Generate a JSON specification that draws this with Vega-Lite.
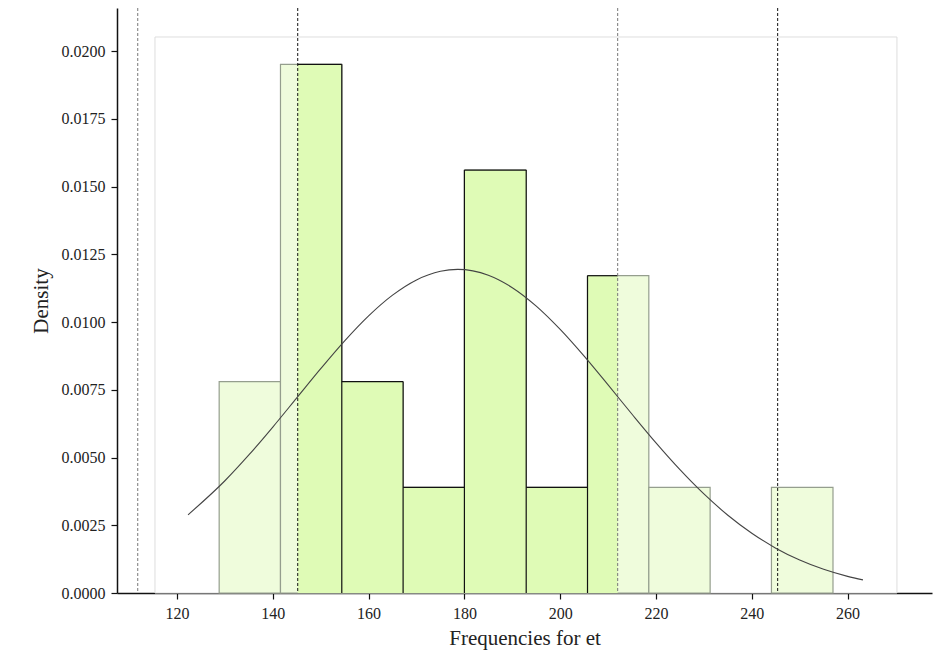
{
  "$schema": "https://vega.github.io/schema/vega-lite/v6.json",
  "width": 815,
  "height": 585,
  "autosize": {"type": "none"},
  "padding": {"left": 117, "top": 8, "right": 2, "bottom": 64},
  "background": "white",
  "config": {
    "view": {"stroke": null},
    "font": "Liberation Serif",
    "axis": {
      "grid": false,
      "domainColor": "#111",
      "domainWidth": 1.5,
      "tickColor": "#111",
      "tickWidth": 1.2,
      "tickSize": 6,
      "labelFont": "Liberation Serif",
      "labelFontSize": 16,
      "labelColor": "#222",
      "titleFont": "Liberation Serif",
      "titleFontSize": 21,
      "titleFontWeight": "normal",
      "titleColor": "#222"
    }
  },
  "datasets": {
    "frame": [{"x0": 115.4, "x1": 270.3, "y0": 0, "y1": 0.02052}],
    "light": [
      {"x0": 128.8, "x1": 141.6, "density": 0.0078},
      {"x0": 141.6, "x1": 154.4, "density": 0.01951},
      {"x0": 154.4, "x1": 167.2, "density": 0.0078},
      {"x0": 167.2, "x1": 180.0, "density": 0.0039},
      {"x0": 180.0, "x1": 192.9, "density": 0.01561},
      {"x0": 192.9, "x1": 205.7, "density": 0.0039},
      {"x0": 205.7, "x1": 218.5, "density": 0.01171},
      {"x0": 218.5, "x1": 231.3, "density": 0.0039},
      {"x0": 244.1, "x1": 256.95, "density": 0.0039}
    ],
    "dark": [
      {"x0": 145.2, "x1": 154.4, "density": 0.01951},
      {"x0": 154.4, "x1": 167.2, "density": 0.0078},
      {"x0": 167.2, "x1": 180.0, "density": 0.0039},
      {"x0": 180.0, "x1": 192.9, "density": 0.01561},
      {"x0": 192.9, "x1": 205.7, "density": 0.0039},
      {"x0": 205.7, "x1": 212.0, "density": 0.01171}
    ],
    "edges": [
      {"x": 145.2, "x2": 154.4, "y": 0.01951, "y2": 0.01951},
      {"x": 154.4, "x2": 167.2, "y": 0.0078, "y2": 0.0078},
      {"x": 167.2, "x2": 180.0, "y": 0.0039, "y2": 0.0039},
      {"x": 180.0, "x2": 192.9, "y": 0.01561, "y2": 0.01561},
      {"x": 192.9, "x2": 205.7, "y": 0.0039, "y2": 0.0039},
      {"x": 205.7, "x2": 212.0, "y": 0.01171, "y2": 0.01171},
      {"x": 154.4, "x2": 154.4, "y": 0, "y2": 0.01951},
      {"x": 167.2, "x2": 167.2, "y": 0, "y2": 0.0078},
      {"x": 180.0, "x2": 180.0, "y": 0, "y2": 0.01561},
      {"x": 192.9, "x2": 192.9, "y": 0, "y2": 0.01561},
      {"x": 205.7, "x2": 205.7, "y": 0, "y2": 0.01171}
    ],
    "rules": [
      {"x": 111.8, "c": "#777"},
      {"x": 145.2, "c": "#111"},
      {"x": 212.0, "c": "#777"},
      {"x": 245.4, "c": "#111"}
    ],
    "curve": [
      {"x": 122.3, "d": 0.002886},
      {"x": 130, "d": 0.004143},
      {"x": 135, "d": 0.005095},
      {"x": 140, "d": 0.006125},
      {"x": 145, "d": 0.007201},
      {"x": 150, "d": 0.008278},
      {"x": 155, "d": 0.009306},
      {"x": 160, "d": 0.010228},
      {"x": 165, "d": 0.010993},
      {"x": 170, "d": 0.011555},
      {"x": 175, "d": 0.011875},
      {"x": 178.6, "d": 0.011944},
      {"x": 185, "d": 0.011727},
      {"x": 190, "d": 0.011268},
      {"x": 195, "d": 0.010588},
      {"x": 200, "d": 0.009727},
      {"x": 205, "d": 0.00874},
      {"x": 210, "d": 0.007678},
      {"x": 215, "d": 0.006596},
      {"x": 220, "d": 0.00554},
      {"x": 225, "d": 0.004551},
      {"x": 230, "d": 0.003655},
      {"x": 235, "d": 0.00287},
      {"x": 240, "d": 0.002205},
      {"x": 245, "d": 0.001655},
      {"x": 250, "d": 0.001216},
      {"x": 255, "d": 0.000873},
      {"x": 260, "d": 0.000613},
      {"x": 263.2, "d": 0.000483}
    ]
  },
  "layer": [
    {
      "data": {"name": "frame"},
      "mark": {"type": "rect", "fill": "white", "stroke": "#dedede", "strokeWidth": 1},
      "encoding": {
        "x": {"field": "x0", "type": "quantitative", "scale": {"domain": [107.47, 277.62], "nice": false, "zero": false},
              "axis": {"values": [120, 140, 160, 180, 200, 220, 240, 260], "title": "Frequencies for et", "labelPadding": 6, "titlePadding": 6}},
        "x2": {"field": "x1"},
        "y": {"field": "y0", "type": "quantitative", "scale": {"domain": [0, 0.02159], "nice": false},
              "axis": {"values": [0, 0.0025, 0.005, 0.0075, 0.01, 0.0125, 0.015, 0.0175, 0.02], "format": ".4f", "title": "Density", "labelPadding": 6, "titlePadding": 10}},
        "y2": {"field": "y1"}
      }
    },
    {
      "data": {"name": "light"},
      "mark": {"type": "rect", "fill": "#effcdc", "stroke": "#959e8e", "strokeWidth": 1.2},
      "encoding": {
        "x": {"field": "x0", "type": "quantitative"},
        "x2": {"field": "x1"},
        "y": {"field": "density", "type": "quantitative"},
        "y2": {"datum": 0}
      }
    },
    {
      "data": {"name": "dark"},
      "mark": {"type": "rect", "fill": "#dffbb6", "strokeWidth": 0},
      "encoding": {
        "x": {"field": "x0", "type": "quantitative"},
        "x2": {"field": "x1"},
        "y": {"field": "density", "type": "quantitative"},
        "y2": {"datum": 0}
      }
    },
    {
      "data": {"name": "edges"},
      "mark": {"type": "rule", "color": "#111", "strokeWidth": 1.2},
      "encoding": {
        "x": {"field": "x", "type": "quantitative"},
        "x2": {"field": "x2"},
        "y": {"field": "y", "type": "quantitative"},
        "y2": {"field": "y2"}
      }
    },
    {
      "data": {"name": "rules"},
      "mark": {"type": "rule", "strokeDash": [3, 2], "strokeWidth": 1},
      "encoding": {
        "x": {"field": "x", "type": "quantitative"},
        "color": {"field": "c", "type": "nominal", "scale": null, "legend": null}
      }
    },
    {
      "data": {"name": "curve"},
      "mark": {"type": "line", "interpolate": "monotone", "color": "#444", "strokeWidth": 1.1},
      "encoding": {
        "x": {"field": "x", "type": "quantitative"},
        "y": {"field": "d", "type": "quantitative"}
      }
    }
  ]
}
